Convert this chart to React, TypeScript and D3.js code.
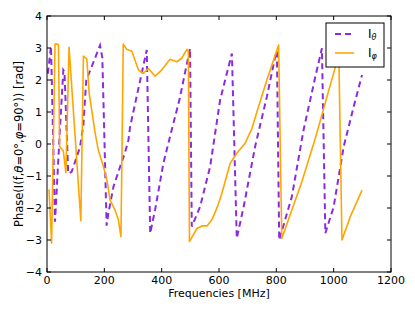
import * as d3 from 'd3';
import React, { useEffect, useRef } from 'react';

// I_theta phase (dashed purple)
const thetaFreq = [3, 14, 28, 45, 57, 61, 74, 86, 100, 115, 127, 137, 155, 185, 193, 208, 214, 232, 255, 273, 284, 290, 348, 360, 377, 406, 435, 462, 499, 505, 534, 569, 604, 645, 662, 686, 726, 767, 796, 802, 810, 854, 895, 936, 959, 971, 1000, 1035, 1070, 1099];
const thetaPhase = [2.2, 3.05, -2.43, 0.44, 2.31, 2.25, -0.92, -0.87, -0.5, -0.1, 0.6, 2.0, 2.4, 3.08, 2.7, -2.55, -2.17, -1.33, -0.71, -0.24, 0.12, 0.54, 2.94, -2.79, -2.06, -0.6, 0.44, 1.38, 2.99, -2.58, -1.96, -0.71, 1.38, 2.83, -2.95, -1.96, -0.08, 1.48, 2.73, 2.9, -3.0, -1.65, 0.44, 2.1, 2.99, -2.79, -1.96, -0.08, 1.17, 2.16];

// I_phi phase (solid orange)
const phiFreq = [7, 16, 28, 37, 40, 44, 57, 66, 77, 118, 127, 139, 147, 156, 168, 179, 197, 209, 220, 237, 249, 258, 266, 278, 296, 319, 336, 354, 377, 400, 429, 453, 470, 488, 493, 497, 523, 540, 558, 575, 595, 610, 639, 662, 691, 715, 738, 767, 808, 819, 854, 889, 936, 1006, 1018, 1029, 1058, 1099];
const phiPhase = [-1.42, -3.1, 3.12, 3.12, 3.1, -0.08, -0.22, -0.9, 3.02, -2.4, 2.75, 2.65, 1.6, 1.06, 0.34, -0.19, -0.71, -1.12, -1.75, -2.06, -2.37, -2.9, 3.12, 2.96, 2.9, 2.31, 2.21, 2.36, 2.12, 2.31, 2.65, 2.57, 2.68, 2.96, 2.9, -3.05, -2.64, -2.56, -2.56, -2.37, -1.95, -1.54, -0.6, -0.29, 0.02, 0.49, 1.17, 2.0, 3.09, -2.95, -2.06, -1.18, 0.18, 2.41, 2.76, -3.0, -2.27, -1.44];

const xTicks = [0, 200, 400, 600, 800, 1000, 1200];
const yTicks = [-4, -3, -2, -1, 0, 1, 2, 3, 4];

const App: React.FC = () => {
  const ref = useRef<SVGSVGElement | null>(null);

  useEffect(() => {
    const width = 415;
    const height = 312;
    const left = 47, right = 391, top = 16, bottom = 272;
    const font = 'DejaVu Sans, sans-serif';

    const svg = d3.select(ref.current)
      .attr('width', width)
      .attr('height', height);
    svg.selectAll('*').remove();

    const x = d3.scaleLinear().domain([0, 1200]).range([left, right]);
    const y = d3.scaleLinear().domain([-4, 4]).range([bottom, top]);

    svg.append('rect')
      .attr('width', width).attr('height', height).attr('fill', 'white');

    svg.append('defs').append('clipPath').attr('id', 'plotclip')
      .append('rect')
      .attr('x', left).attr('y', top)
      .attr('width', right - left).attr('height', bottom - top);

    const line = d3.line<[number, number]>()
      .x(d => x(d[0]))
      .y(d => y(d[1]));

    const plot = svg.append('g').attr('clip-path', 'url(#plotclip)');

    plot.append('path')
      .datum(thetaFreq.map((f, i) => [f, thetaPhase[i]] as [number, number]))
      .attr('d', line)
      .attr('fill', 'none')
      .attr('stroke', '#8a2be2')
      .attr('stroke-width', 2)
      .attr('stroke-dasharray', '6,4');

    plot.append('path')
      .datum(phiFreq.map((f, i) => [f, phiPhase[i]] as [number, number]))
      .attr('d', line)
      .attr('fill', 'none')
      .attr('stroke', '#ffa500')
      .attr('stroke-width', 1.6)
      .attr('stroke-linejoin', 'round');

    // frame
    svg.append('rect')
      .attr('x', left).attr('y', top)
      .attr('width', right - left).attr('height', bottom - top)
      .attr('fill', 'none').attr('stroke', 'black').attr('stroke-width', 1);

    // ticks inside on all sides
    const tl = 4;
    xTicks.forEach(t => {
      svg.append('line').attr('x1', x(t)).attr('x2', x(t)).attr('y1', bottom).attr('y2', bottom - tl)
        .attr('stroke', 'black');
      svg.append('line').attr('x1', x(t)).attr('x2', x(t)).attr('y1', top).attr('y2', top + tl)
        .attr('stroke', 'black');
      svg.append('text').attr('x', x(t)).attr('y', bottom + 12)
        .attr('text-anchor', 'middle').attr('font-family', font).attr('font-size', 11)
        .text(t);
    });
    yTicks.forEach(t => {
      svg.append('line').attr('x1', left).attr('x2', left + tl).attr('y1', y(t)).attr('y2', y(t))
        .attr('stroke', 'black');
      svg.append('line').attr('x1', right).attr('x2', right - tl).attr('y1', y(t)).attr('y2', y(t))
        .attr('stroke', 'black');
      svg.append('text').attr('x', left - 5).attr('y', y(t)).attr('dy', '0.35em')
        .attr('text-anchor', 'end').attr('font-family', font).attr('font-size', 11)
        .text(t < 0 ? '\u2212' + Math.abs(t) : String(t));
    });

    svg.append('text')
      .attr('x', (left + right) / 2).attr('y', 297)
      .attr('text-anchor', 'middle').attr('font-family', font).attr('font-size', 11)
      .text('Frequencies [MHz]');

    const yl = svg.append('text')
      .attr('transform', `translate(23,${(top + bottom) / 2}) rotate(-90)`)
      .attr('text-anchor', 'middle').attr('font-family', font).attr('font-size', 11.5);
    yl.append('tspan').text('Phase(I(f,');
    yl.append('tspan').attr('font-style', 'italic').text('θ');
    yl.append('tspan').text('=0°,');
    yl.append('tspan').attr('font-style', 'italic').text('φ');
    yl.append('tspan').text('=90°)) [rad]');

    // legend
    const lg = svg.append('g');
    lg.append('rect')
      .attr('x', 326).attr('y', 23).attr('width', 58).attr('height', 44)
      .attr('fill', 'white').attr('stroke', 'black').attr('stroke-width', 1);
    lg.append('line').attr('x1', 335).attr('x2', 354).attr('y1', 34).attr('y2', 34)
      .attr('stroke', '#8a2be2').attr('stroke-width', 2).attr('stroke-dasharray', '6,4');
    lg.append('line').attr('x1', 335).attr('x2', 354).attr('y1', 53).attr('y2', 53)
      .attr('stroke', '#ffa500').attr('stroke-width', 1.6);
    const t1 = lg.append('text').attr('x', 368).attr('y', 38).attr('font-family', font).attr('font-size', 12);
    t1.append('tspan').text('I');
    t1.append('tspan').attr('font-size', 8).attr('font-style', 'italic').attr('dy', 2).text('θ');
    const t2 = lg.append('text').attr('x', 368).attr('y', 57).attr('font-family', font).attr('font-size', 12);
    t2.append('tspan').text('I');
    t2.append('tspan').attr('font-size', 8).attr('font-style', 'italic').attr('dy', 2).text('φ');
  }, []);

  return (
    <svg ref={ref} style={{ position: 'absolute', left: 0, top: 0 }}></svg>
  );
};

export default App;
